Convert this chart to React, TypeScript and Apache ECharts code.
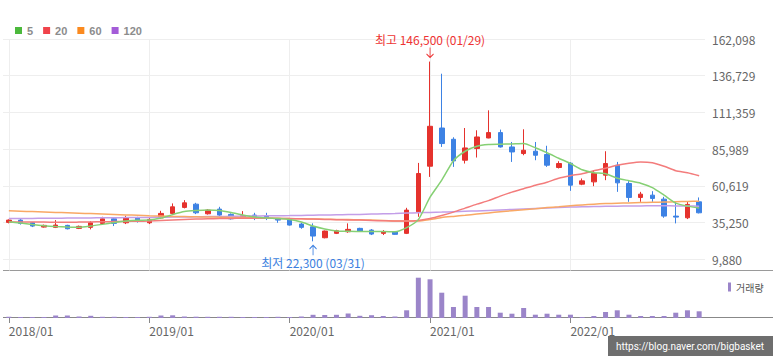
import React, { useEffect, useRef } from 'react';
import * as echarts from 'echarts';

const categories = [
  '2018/01','2018/02','2018/03','2018/04','2018/05','2018/06','2018/07','2018/08','2018/09','2018/10','2018/11','2018/12',
  '2019/01','2019/02','2019/03','2019/04','2019/05','2019/06','2019/07','2019/08','2019/09','2019/10','2019/11','2019/12',
  '2020/01','2020/02','2020/03','2020/04','2020/05','2020/06','2020/07','2020/08','2020/09','2020/10','2020/11','2020/12',
  '2021/01','2021/02','2021/03','2021/04','2021/05','2021/06','2021/07','2021/08','2021/09','2021/10','2021/11','2021/12',
  '2022/01','2022/02','2022/03','2022/04','2022/05','2022/06','2022/07','2022/08','2022/09','2022/10','2022/11','2022/12',
];

const openPrices = [35390, 36970, 35110, 32150, 31940, 33320, 31250, 31940, 34700, 37870, 35110, 38560,
  35110, 38560, 41590, 45730, 47980, 41320, 44560, 40900, 38830, 40420, 39730, 38140,
  37460, 34220, 32350, 24770, 27800, 28910, 31250, 30080, 27800, 28910, 27800, 42690,
  74200, 100600, 92810, 78340, 86400, 93710, 97430, 87510, 82960, 84540, 82270, 73300,
  76270, 61790, 63380, 68000, 74890, 62270, 52620, 54210, 51450, 39730, 38560, 49590];

const closePrices = [36970, 34700, 32840, 33320, 33530, 30980, 32630, 35110, 37870, 34700, 38560, 36080,
  37460, 41590, 46140, 48900, 42010, 43870, 40420, 37870, 39940, 38140, 38140, 36970,
  33530, 31940, 25940, 29390, 29600, 30560, 29390, 27320, 28910, 27120, 43870, 69170,
  101780, 89850, 77850, 86820, 94400, 97430, 87510, 84060, 85230, 81780, 74890, 76060,
  61100, 64070, 69170, 76060, 62690, 52620, 54900, 51930, 39730, 39040, 47800, 42010];

const lowPrices = [34700, 33870, 32150, 31800, 31460, 30560, 30770, 30560, 34220, 32840, 34220, 35250,
  34220, 37990, 40420, 45040, 41110, 40770, 39730, 37320, 38140, 36970, 36970, 35110,
  33180, 30980, 22300, 24360, 27320, 28220, 28910, 26630, 26630, 26840, 27320, 39250,
  66820, 87510, 73720, 76060, 80200, 93500, 87100, 77160, 81780, 78340, 73720, 72620,
  57170, 61100, 60410, 64550, 56480, 49590, 49590, 49590, 38560, 34700, 37660, 41590];

const highPrices = [37460, 37660, 35600, 33870, 36970, 33730, 33180, 36280, 39250, 39040, 39940, 39250,
  38350, 43380, 48490, 50760, 48900, 44560, 46140, 41590, 43180, 42010, 42010, 38350,
  38010, 35110, 34700, 29730, 30290, 34700, 31670, 30770, 30080, 29390, 45450, 76480,
  146500, 138100, 94190, 100600, 99020, 112810, 99500, 90950, 99710, 90950, 88330, 77650,
  77000, 65720, 71440, 84540, 77160, 63860, 56480, 56960, 53040, 49590, 49590, 52620];

const ma5 = [35800, 34900, 33870, 33040, 32490, 32150, 31940, 32840, 34010, 35250, 36280, 36840,
  36970, 38350, 40760, 42830, 43520, 43870, 43520, 42140, 40420, 39040, 38350, 38010,
  37320, 35590, 32840, 30770, 29390, 29180, 29050, 29050, 29050, 28910, 31800, 37320,
  52830, 64550, 77990, 84540, 87990, 89160, 89370, 89570, 89850, 86950, 83510, 79720,
  76060, 71790, 69720, 69030, 65930, 64200, 62480, 59380, 54210, 48690, 46620, 45250];

const ma20 = [35590, 35590, 35590, 35590, 35460, 35460, 35590, 35730, 35800, 35940, 36080, 36150,
  36280, 36630, 36970, 37320, 37660, 37870, 38010, 38150, 38220, 38220, 38220, 38150,
  38010, 37870, 37660, 37460, 37250, 37110, 36970, 36700, 36490, 36280, 36280, 36770,
  38010, 40080, 42490, 45250, 48000, 50420, 53520, 56280, 58690, 61100, 63170, 65930,
  67650, 69030, 71100, 72820, 74890, 76270, 77170, 76610, 74200, 71100, 69720, 67650];

const ma60 = [43380, 43110, 42830, 42560, 42280, 42010, 41730, 41450, 41180, 40900, 40560, 40280,
  39940, 39730, 39520, 39390, 39250, 39110, 38970, 38830, 38700, 38560, 38420, 38210,
  38010, 37870, 37730, 37590, 37460, 37320, 37180, 36970, 36770, 36420, 36280, 36280,
  37320, 38700, 39520, 40280, 41110, 41940, 42700, 43450, 44140, 44830, 45590, 46210,
  46900, 47450, 48000, 48350, 48620, 48830, 49040, 49240, 49450, 49660, 49870, 50070];

const ma120 = [38010, 38080, 38150, 38220, 38280, 38350, 38420, 38490, 38560, 38630, 38700, 38770,
  38830, 38900, 39040, 39110, 39250, 39390, 39450, 39590, 39730, 39800, 39940, 40010,
  40080, 40210, 40350, 40490, 40630, 40760, 40900, 41110, 41320, 41520, 41800, 42070,
  42280, 42490, 42760, 43040, 43320, 43660, 44010, 44350, 44690, 45040, 45380, 45660,
  45940, 46140, 46350, 46490, 46620, 46690, 46760, 46830, 46830, 46760, 46690, 46620];

const volumes = [120000, 100000, 100000, 100000, 250000, 250000, 150000, 220000, 120000, 120000, 100000, 100000,
  120000, 250000, 270000, 150000, 130000, 120000, 120000, 120000, 100000, 100000, 100000, 120000,
  100000, 150000, 320000, 300000, 320000, 450000, 220000, 280000, 200000, 150000, 770000, 4030000,
  3870000, 2530000, 1100000, 2230000, 1100000, 1100000, 530000, 430000, 1000000, 330000, 430000, 330000,
  330000, 100000, 200000, 600000, 770000, 330000, 200000, 200000, 200000, 530000, 770000, 670000];

const priceTicks = [9880, 35250, 60619, 85989, 111359, 136729, 162098];

const highLabelDate = '01/29';
const lowLabelDate = '03/31';

const RED = '#e5322d';
const BLUE = '#3d82e4';
const HIGH_TEXT = '#ee3333';
const LOW_TEXT = '#3b7fe0';
const FONT = "'Noto Sans CJK KR', 'Noto Sans', sans-serif";

const ARROW_DOWN = 'path://M5,0 L5,14 M1,9 L5,14 L9,9';
const ARROW_UP = 'path://M5,14 L5,0 M1,5 L5,0 L9,5';

const fmt = (v: number) => Math.round(v).toLocaleString('en-US');
const isYearStart = (_i: number, v: string) => String(v).slice(5) === '01';

export default function App() {
  const ref = useRef<HTMLDivElement>(null);

  useEffect(() => {
    if (!ref.current) return;
    const chart = echarts.init(ref.current, undefined, { renderer: 'svg' });

    const ohlc = categories.map((_, i) => [openPrices[i], closePrices[i], lowPrices[i], highPrices[i]]);
    const maxHigh = Math.max(...highPrices);
    const maxIdx = highPrices.indexOf(maxHigh);
    const minLow = Math.min(...lowPrices);
    const minIdx = lowPrices.indexOf(minLow);

    const lineSeries = (name: string, data: number[], legendColor: string, lineColor: string) => ({
      name,
      type: 'line',
      xAxisIndex: 0,
      yAxisIndex: 0,
      data,
      symbol: 'none',
      smooth: 0.2,
      itemStyle: { color: legendColor },
      lineStyle: { width: 1.5, color: lineColor },
      silent: true,
    });

    chart.setOption({
      animation: false,
      backgroundColor: '#ffffff',
      textStyle: { fontFamily: FONT },
      legend: [
        {
          data: ['5', '20', '60', '120'],
          left: 10,
          top: 20,
          icon: 'rect',
          itemWidth: 7,
          itemHeight: 7,
          itemGap: 10,
          selectedMode: false,
          textStyle: { color: '#8c8c8c', fontSize: 11, fontWeight: 'bold', fontFamily: "'Liberation Sans', sans-serif" },
        },
        {
          data: ['거래량'],
          left: 723,
          top: 277,
          icon: 'rect',
          itemWidth: 3,
          itemHeight: 9,
          selectedMode: false,
          textStyle: { color: '#555555', fontSize: 10, fontFamily: FONT },
        },
      ],
      grid: [
        { left: 3, right: 68, top: 39, height: 231.5 },
        { left: 3, right: 68, top: 271, height: 47 },
      ],
      xAxis: [
        {
          type: 'category',
          gridIndex: 0,
          data: categories,
          boundaryGap: true,
          axisLine: { show: false },
          axisTick: { show: false },
          axisLabel: { show: false },
          splitLine: { show: true, interval: isYearStart, alignWithLabel: true, lineStyle: { color: '#eeeeee', width: 1 } },
        },
        {
          type: 'category',
          gridIndex: 1,
          data: categories,
          boundaryGap: true,
          axisLine: { show: false },
          axisTick: { show: true, interval: isYearStart, alignWithLabel: true, length: 5, lineStyle: { color: '#888888' } },
          axisLabel: { interval: isYearStart, align: 'left', margin: 6, color: '#666666', fontSize: 12, fontFamily: FONT },
          splitLine: { show: false },
        },
      ],
      yAxis: [
        {
          type: 'value',
          gridIndex: 0,
          position: 'right',
          min: 2140,
          max: 162098,
          axisLine: { show: false },
          axisTick: { show: false, customValues: priceTicks },
          axisLabel: { customValues: priceTicks, formatter: (v: number) => fmt(v), color: '#666666', fontSize: 12, margin: 7, fontFamily: FONT },
          splitLine: { show: true, lineStyle: { color: '#eeeeee', width: 1 } },
        },
        {
          type: 'value',
          gridIndex: 1,
          min: 0,
          max: 4700000,
          show: false,
        },
      ],
      series: [
        lineSeries('120', ma120, '#a45cd8', '#c39ee8'),
        lineSeries('60', ma60, '#fb8a1f', '#f9a865'),
        lineSeries('20', ma20, '#f0434b', '#f37c7c'),
        lineSeries('5', ma5, '#4cb93c', '#86d074'),
        {
          name: '시세',
          type: 'candlestick',
          xAxisIndex: 0,
          yAxisIndex: 0,
          data: ohlc,
          barWidth: 5,
          clip: false,
          itemStyle: { color: RED, color0: BLUE, borderColor: RED, borderColor0: BLUE, borderWidth: 1 },
          markPoint: {
            silent: true,
            data: [
              {
                coord: [categories[maxIdx], maxHigh],
                symbol: ARROW_DOWN,
                symbolSize: [7, 10],
                symbolOffset: [0, -9],
                itemStyle: { color: 'rgba(0,0,0,0)', borderColor: HIGH_TEXT, borderWidth: 1 },
                label: {
                  show: true,
                  position: 'top',
                  distance: 1,
                  formatter: `최고 ${fmt(maxHigh)} (${highLabelDate})`,
                  color: HIGH_TEXT,
                  fontSize: 12,
                  fontFamily: FONT,
                },
              },
              {
                coord: [categories[minIdx], minLow],
                symbol: ARROW_UP,
                symbolSize: [7, 10],
                symbolOffset: [0, 9],
                itemStyle: { color: 'rgba(0,0,0,0)', borderColor: LOW_TEXT, borderWidth: 1 },
                label: {
                  show: true,
                  position: 'bottom',
                  distance: 1,
                  formatter: `최저 ${fmt(minLow)} (${lowLabelDate})`,
                  color: LOW_TEXT,
                  fontSize: 12,
                  fontFamily: FONT,
                },
              },
            ],
          },
        },
        {
          name: '거래량',
          type: 'bar',
          xAxisIndex: 1,
          yAxisIndex: 1,
          data: volumes,
          barWidth: 5,
          itemStyle: { color: '#9b85c9' },
        },
      ],
      graphic: [
        { type: 'line', silent: true, shape: { x1: 3, y1: 270.5, x2: 773, y2: 270.5 }, style: { stroke: '#9a9a9a', lineWidth: 1 } },
        { type: 'line', silent: true, shape: { x1: 3, y1: 317.5, x2: 773, y2: 317.5 }, style: { stroke: '#888888', lineWidth: 1 } },
        { type: 'rect', silent: true, shape: { x: 608, y: 336, width: 165, height: 20 }, style: { fill: '#6e6e6e' } },
        {
          type: 'text',
          silent: true,
          x: 690,
          y: 346,
          style: {
            text: 'https://blog.naver.com/bigbasket',
            fill: '#ffffff',
            fontSize: 10,
            fontFamily: "Roboto, 'Liberation Sans', sans-serif",
            align: 'center',
            verticalAlign: 'middle',
            textAlign: 'center',
            textVerticalAlign: 'middle',
          },
        },
      ],
    });

    return () => chart.dispose();
  }, []);

  return <div ref={ref} style={{ position: 'absolute', left: 0, top: 0, width: 773, height: 356, background: '#fff' }} />;
}
